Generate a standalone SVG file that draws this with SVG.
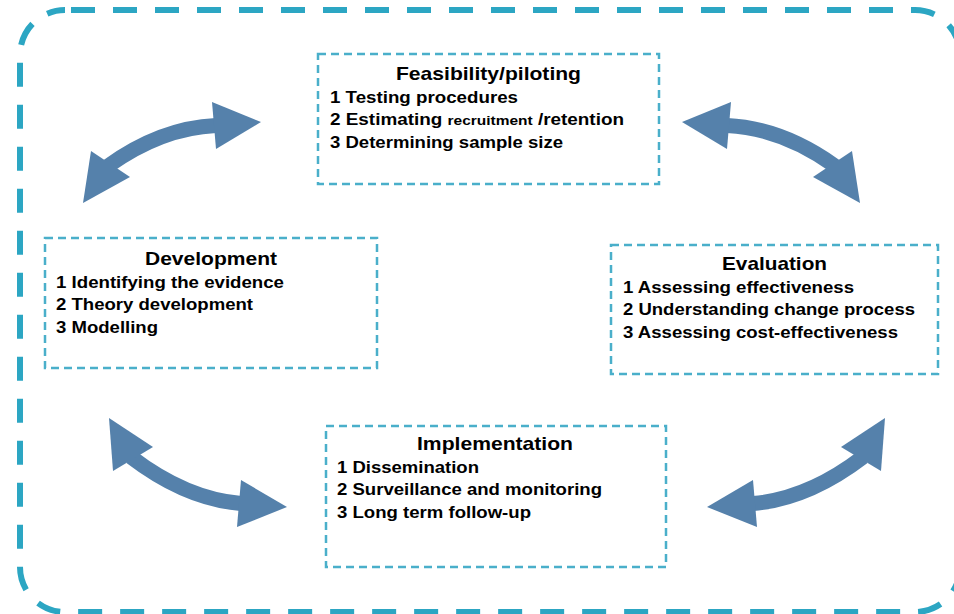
<svg xmlns="http://www.w3.org/2000/svg" width="954" height="614" viewBox="0 0 954 614">
<style>
.outer{fill:none;stroke:#2ca6c3;stroke-width:6;stroke-dasharray:24 18;stroke-dashoffset:36}
.box{fill:#fff;stroke:#4aafca;stroke-width:2.5;stroke-dasharray:8 5}
.t{font-family:"Liberation Sans",Arial,sans-serif;font-weight:bold;fill:#000}
.ttl{font-size:19px;text-anchor:start}
.ln{font-size:16.5px}
.sm{font-size:13.5px}
.shaft{fill:none;stroke:#5581ab;stroke-width:15}
.head{fill:#5581ab}
</style>
<rect width="954" height="614" fill="#fff"/>
<rect class="outer" x="20" y="10" width="940" height="602" rx="45" ry="45"/>

<g id="connectors">
  <g id="arrow-dev-feas">
    <path class="shaft" d="M108,166 Q161,128 216,125.5"/>
    <polygon class="head" points="83,203 91,151 130,177"/>
    <polygon class="head" points="261,122 212,102 216,149"/>
  </g>
  <g id="arrow-feas-eval" transform="translate(943,0) scale(-1,1)">
    <path class="shaft" d="M108,166 Q161,128 216,125.5"/>
    <polygon class="head" points="83,203 91,151 130,177"/>
    <polygon class="head" points="261,122 212,102 216,149"/>
  </g>
  <g id="arrow-dev-impl">
    <path class="shaft" d="M131,457 Q186,499 241,503.5"/>
    <polygon class="head" points="109,418 113,471 153,447"/>
    <polygon class="head" points="287,507 241,480 237,527"/>
  </g>
  <g id="arrow-impl-eval" transform="translate(994,0) scale(-1,1)">
    <path class="shaft" d="M131,457 Q186,499 241,503.5"/>
    <polygon class="head" points="109,418 113,471 153,447"/>
    <polygon class="head" points="287,507 241,480 237,527"/>
  </g>
</g>

<g id="feasibility">
  <rect class="box" x="318" y="54" width="341" height="130"/>
  <text class="t ttl" x="396" y="80" textLength="185" lengthAdjust="spacingAndGlyphs">Feasibility/piloting</text>
  <text class="t ln" x="330" y="103" textLength="188" lengthAdjust="spacingAndGlyphs">1 Testing procedures</text>
  <text class="t ln" x="330" y="125" textLength="294" lengthAdjust="spacingAndGlyphs">2 Estimating <tspan class="sm">recruitment</tspan> /retention</text>
  <text class="t ln" x="330" y="148" textLength="233" lengthAdjust="spacingAndGlyphs">3 Determining sample size</text>
</g>

<g id="development">
  <rect class="box" x="45" y="238" width="332" height="130"/>
  <text class="t ttl" x="145" y="265" textLength="132" lengthAdjust="spacingAndGlyphs">Development</text>
  <text class="t ln" x="56" y="288" textLength="228" lengthAdjust="spacingAndGlyphs">1 Identifying the evidence</text>
  <text class="t ln" x="56" y="310" textLength="197" lengthAdjust="spacingAndGlyphs">2 Theory development</text>
  <text class="t ln" x="56" y="333" textLength="102" lengthAdjust="spacingAndGlyphs">3 Modelling</text>
</g>

<g id="evaluation">
  <rect class="box" x="611" y="245" width="327" height="129"/>
  <text class="t ttl" x="722" y="270" textLength="105" lengthAdjust="spacingAndGlyphs">Evaluation</text>
  <text class="t ln" x="623" y="293" textLength="231" lengthAdjust="spacingAndGlyphs">1 Assessing effectiveness</text>
  <text class="t ln" x="623" y="315" textLength="292" lengthAdjust="spacingAndGlyphs">2 Understanding change process</text>
  <text class="t ln" x="623" y="338" textLength="275" lengthAdjust="spacingAndGlyphs">3 Assessing cost-effectiveness</text>
</g>

<g id="implementation">
  <rect class="box" x="326" y="426" width="340" height="141"/>
  <text class="t ttl" x="417" y="450" textLength="156" lengthAdjust="spacingAndGlyphs">Implementation</text>
  <text class="t ln" x="337" y="473" textLength="142" lengthAdjust="spacingAndGlyphs">1 Dissemination</text>
  <text class="t ln" x="337" y="495" textLength="265" lengthAdjust="spacingAndGlyphs">2 Surveillance and monitoring</text>
  <text class="t ln" x="337" y="518" textLength="194" lengthAdjust="spacingAndGlyphs">3 Long term follow-up</text>
</g>
</svg>
